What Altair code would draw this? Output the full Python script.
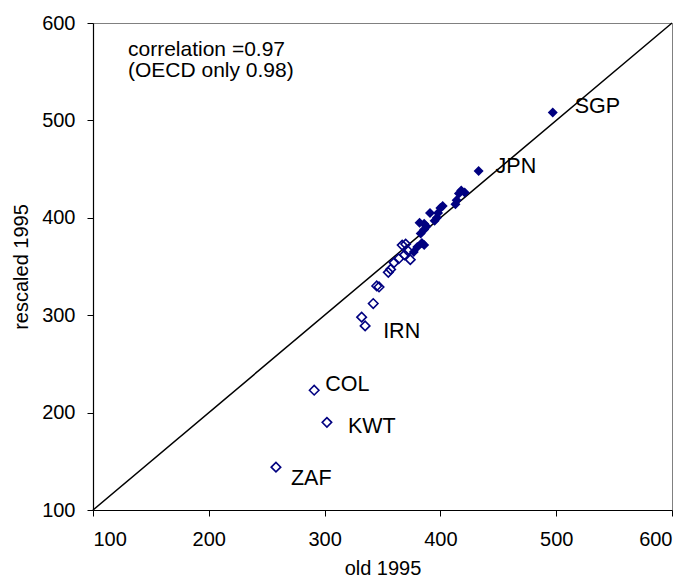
import altair as alt
import pandas as pd

# Non-OECD (hollow) points
non_x = [258, 302, 291, 335, 332, 342, 345, 347, 355, 357, 360, 364, 367, 369, 370, 374, 372]
non_y = [144, 190, 223, 289, 298, 312, 330, 329, 344, 347, 354, 358, 372, 362, 373, 357, 366]

# OECD (filled) points
oecd_x = [377, 380, 384, 386, 383, 386, 382, 386, 388, 391, 395, 397, 398, 400, 402, 413, 414, 416, 418, 421, 433, 497]
oecd_y = [365, 370, 374, 372, 384, 388, 395, 394, 391, 405, 397, 400, 405, 410, 412, 414, 418, 425, 428, 426, 448, 508]

# Labels
lab_names = ["SGP", "JPN", "IRN", "COL", "KWT", "ZAF"]
lab_x = [497, 433, 335, 291, 302, 258]
lab_y = [508, 448, 289, 223, 190, 144]
lab_dx = [22, 17, 18, 11, 21, 15]
lab_dy = [-6, -4, 6, -5, 5, 12]

diag = [100, 600]

ticks = [100, 200, 300, 400, 500, 600]
FONT = "Liberation Sans"
NAVY = "#000080"

non_df = pd.DataFrame({"x": non_x, "y": non_y})
oecd_df = pd.DataFrame({"x": oecd_x, "y": oecd_y})
diag_df = pd.DataFrame({"x": diag, "y": diag})

xs = alt.Scale(domain=[100, 600], nice=False, zero=False)
ys = alt.Scale(domain=[100, 600], nice=False, zero=False)

xax = alt.Axis(values=ticks, grid=False, title="old 1995", domainColor="black",
               tickColor="black", tickSize=6, labelPadding=13, titlePadding=9,
               labelFont=FONT, titleFont=FONT, labelFontSize=20, titleFontSize=20,
               labelColor="black", titleColor="black", titleFontWeight="normal")
yax = alt.Axis(values=ticks, grid=False, title="rescaled 1995", domainColor="black",
               tickColor="black", tickSize=6, labelPadding=12, titlePadding=10,
               labelFont=FONT, titleFont=FONT, labelFontSize=20, titleFontSize=20,
               labelColor="black", titleColor="black", titleFontWeight="normal")

line = alt.Chart(diag_df).mark_line(color="black", strokeWidth=1.5).encode(
    x=alt.X("x:Q", scale=xs, axis=xax),
    y=alt.Y("y:Q", scale=ys, axis=yax),
)

hollow = alt.Chart(non_df).mark_point(shape="diamond", size=90, filled=False,
                                      color=NAVY, strokeWidth=1.6, opacity=1).encode(
    x=alt.X("x:Q", scale=xs), y=alt.Y("y:Q", scale=ys)
)

filled = alt.Chart(oecd_df).mark_point(shape="diamond", size=100, filled=True,
                                       color=NAVY, opacity=1).encode(
    x=alt.X("x:Q", scale=xs), y=alt.Y("y:Q", scale=ys)
)

layers = [line, hollow, filled]
for n, lx, ly, dx, dy in zip(lab_names, lab_x, lab_y, lab_dx, lab_dy):
    d = pd.DataFrame({"x": [lx], "y": [ly], "t": [n]})
    layers.append(
        alt.Chart(d).mark_text(align="left", baseline="middle", dx=dx, dy=dy,
                               font=FONT, fontSize=21.5, color="black").encode(
            x=alt.X("x:Q", scale=xs), y=alt.Y("y:Q", scale=ys), text="t:N")
    )

ann1 = alt.Chart(pd.DataFrame({"t": ["correlation =0.97"]})).mark_text(
    align="left", baseline="middle", font=FONT, fontSize=21, color="black").encode(
    x=alt.value(35), y=alt.value(26.5), text="t:N")
ann2 = alt.Chart(pd.DataFrame({"t": ["(OECD only 0.98)"]})).mark_text(
    align="left", baseline="middle", font=FONT, fontSize=21, color="black").encode(
    x=alt.value(35), y=alt.value(47.5), text="t:N")
layers += [ann1, ann2]

chart = alt.layer(*layers).properties(
    width=579, height=487,
    background="white",
    autosize=alt.AutoSizeParams(type="none"),
    padding={"left": 85, "top": 15, "right": 9, "bottom": 67},
).configure_axis(
    domainWidth=1.2
).configure_view(
    stroke="#808080", strokeWidth=1
)

chart.save("out.html", embed_options={"renderer": "svg", "actions": False})
